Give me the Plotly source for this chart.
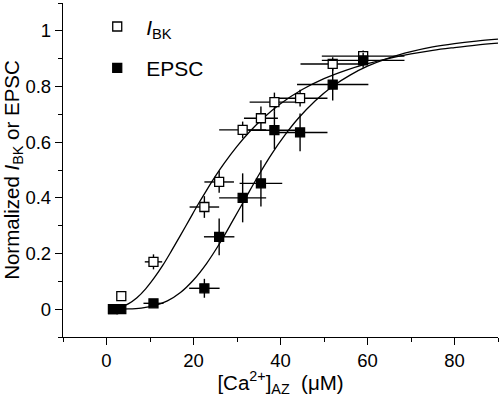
import plotly.graph_objects as go

# ---- data ----
bk_x = [1.5, 3.4, 10.8, 22.5, 25.9, 31.3, 35.5, 38.6, 44.5, 52.0, 59.0]
bk_y = [0.0, 0.047, 0.17, 0.367, 0.457, 0.644, 0.686, 0.744, 0.758, 0.881, 0.909]
bk_xerr = [0, 0, 2.0, 3.4, 3.4, 5.4, 3.9, 5.7, 6.3, 7.4, 9.5]
bk_yerr = [0, 0, 0.027, 0.039, 0.039, 0.03, 0.042, 0.034, 0.03, 0.024, 0.02]

epsc_x = [1.5, 3.4, 10.8, 22.5, 25.9, 31.3, 35.5, 38.6, 44.5, 52.0, 59.0]
epsc_y = [0.0, 0.0, 0.021, 0.075, 0.26, 0.40, 0.452, 0.643, 0.635, 0.807, 0.894]
epsc_xerr = [0, 0, 2.3, 3.5, 3.5, 5.4, 4.9, 6.0, 6.3, 8.2, 9.5]
epsc_yerr = [0, 0, 0.01, 0.034, 0.066, 0.088, 0.083, 0.068, 0.068, 0.057, 0.027]

# fitted curves, points
bk_fit_x = [1, 3, 5, 7, 9, 11, 13, 15, 17, 19, 21, 23, 25, 27, 30, 33, 36, 40,
            45, 50, 55, 60, 65, 70, 75, 80, 85, 90]
bk_fit_y = [0.0004, 0.006, 0.019, 0.041, 0.073, 0.113, 0.159, 0.211, 0.265, 0.320,
            0.375, 0.427, 0.477, 0.523, 0.585, 0.639, 0.686, 0.738, 0.789, 0.828,
            0.858, 0.882, 0.901, 0.917, 0.930, 0.940, 0.949, 0.956]

epsc_fit_x = [1, 5, 8, 11, 14, 17, 20, 23, 26, 29, 32, 35, 38, 41, 44, 48, 52,
              56, 60, 65, 70, 75, 80, 85, 90]
epsc_fit_y = [0.0, 0.0007, 0.004, 0.0127, 0.030, 0.060, 0.105, 0.164, 0.236, 0.317,
              0.400, 0.482, 0.558, 0.625, 0.684, 0.749, 0.801, 0.841, 0.873, 0.903,
              0.925, 0.942, 0.954, 0.963, 0.970]

x_tick_vals = [0, 20, 40, 60, 80]
x_tick_text = ["0", "20", "40", "60", "80"]
y_tick_vals = [0, 0.2, 0.4, 0.6, 0.8, 1.0]
y_tick_text = ["0", "0.2", "0.4", "0.6", "0.8", "1"]

FONT = "Liberation Sans, Arial, sans-serif"

fig = go.Figure()

fig.add_trace(go.Scatter(x=bk_fit_x, y=bk_fit_y, mode="lines", line_shape="spline",
                         line=dict(color="black", width=1.3), showlegend=False,
                         hoverinfo="skip", legendgroup="c"))
fig.add_trace(go.Scatter(x=epsc_fit_x, y=epsc_fit_y, mode="lines", line_shape="spline",
                         line=dict(color="black", width=1.3), showlegend=False,
                         hoverinfo="skip", legendgroup="c"))

fig.add_trace(go.Scatter(
    x=bk_x, y=bk_y, mode="markers", name="<i>I</i><sub>BK</sub>", legendgroup="a",
    marker=dict(symbol="square", size=9, color="white", line=dict(color="black", width=1.3)),
    error_x=dict(type="data", array=bk_xerr, color="black", thickness=1.4, width=0),
    error_y=dict(type="data", array=bk_yerr, color="black", thickness=1.4, width=0),
))
fig.add_trace(go.Scatter(
    x=epsc_x, y=epsc_y, mode="markers", name="EPSC", legendgroup="b",
    marker=dict(symbol="square", size=9, color="black", line=dict(color="black", width=1.3)),
    error_x=dict(type="data", array=epsc_xerr, color="black", thickness=1.4, width=0),
    error_y=dict(type="data", array=epsc_yerr, color="black", thickness=1.4, width=0),
))

axis_common = dict(showline=True, linecolor="black", linewidth=1.3, showgrid=False,
                   zeroline=False, ticks="outside", tickcolor="black", tickwidth=1.3,
                   ticklen=7, mirror=False,
                   tickfont=dict(family=FONT, size=18.5, color="black"))

fig.update_xaxes(range=[-10, 90], tickvals=x_tick_vals, ticktext=x_tick_text,
                 minor=dict(ticks="outside", ticklen=4, tickcolor="black", tickwidth=1.3, dtick=10, tick0=0),
                 title=dict(text="[Ca<sup>2+</sup>]<sub>AZ</sub>\u00a0\u00a0(μM)",
                            font=dict(family=FONT, size=20.5, color="black"), standoff=2),
                 **axis_common)
fig.update_yaxes(range=[-0.1, 1.1], tickvals=y_tick_vals, ticktext=y_tick_text,
                 minor=dict(ticks="outside", ticklen=4, tickcolor="black", tickwidth=1.3, dtick=0.1, tick0=0),
                 title=dict(text="Normalized <i>I</i><sub>BK</sub> or EPSC",
                            font=dict(family=FONT, size=20.5, color="black"), standoff=11),
                 **axis_common)

fig.update_layout(
    width=500, height=397,
    margin=dict(l=63, r=2, t=3, b=60, autoexpand=False),
    plot_bgcolor="white", paper_bgcolor="white",
    font=dict(family=FONT, color="black"),
    legend=dict(x=0.058, y=0.99, xanchor="left", yanchor="top", itemwidth=48,
                font=dict(family=FONT, size=21, color="black"),
                bgcolor="rgba(0,0,0,0)", tracegroupgap=11, traceorder="grouped"),
)

fig.write_html("out.html",
               config={"displayModeBar": False},
               post_script="document.body.style.margin='0';document.body.style.overflow='hidden';")
